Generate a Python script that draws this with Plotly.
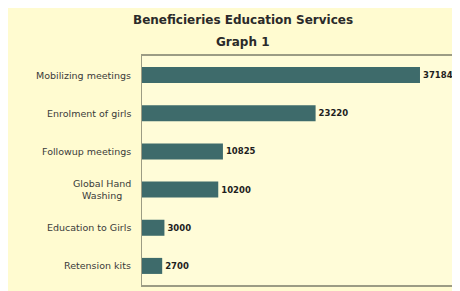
import plotly.graph_objects as go

categories = ["Mobilizing meetings", "Enrolment of girls", "Followup meetings",
              "Global Hand<br>Washing", "Education to Girls", "Retension kits"]
values = [37184, 23220, 10825, 10200, 3000, 2700]
title_line1 = "Beneficieries Education Services"
title_line2 = "Graph 1"

bar_color = "#3e6b6b"
paper_yellow = "#fffbd0"
frame = "#9c9c84"

fig = go.Figure()
fig.add_trace(go.Bar(
    y=categories, x=values, orientation="h",
    marker=dict(color=bar_color, line=dict(width=0)),
    width=0.42,
    text=[str(v) for v in values], textposition="outside",
    textfont=dict(family="DejaVu Sans", size=8.5, color="#1e1e1e", weight="bold"),
    cliponaxis=False,
))

for c in categories:
    fig.add_annotation(x=0, y=c, xref="x", yref="y", text=c, showarrow=False,
                       xanchor="right", align="center", xshift=-9,
                       font=dict(family="DejaVu Sans", size=9.5, color="#3a3a3a"))

# "Graph 1" line: figure x=235px, y=34px; plot area spans x 134..448, y 48..277
fig.add_annotation(x=(235 - 134) / 314, y=1 + (48 - 34) / 229, xref="paper", yref="paper",
                   text=title_line2, showarrow=False, xanchor="center", yanchor="middle",
                   font=dict(family="DejaVu Sans", size=12, color="#2a2a2a", weight="bold"))

fig.update_layout(
    width=452, height=283,
    margin=dict(l=134, r=4, t=48, b=6),
    paper_bgcolor=paper_yellow, plot_bgcolor="#fffcd8",
    title=dict(text=title_line1, x=0.52, xanchor="center",
               y=1 - 12 / 283, yanchor="middle",
               font=dict(family="DejaVu Sans", size=12, color="#2a2a2a", weight="bold")),
    showlegend=False,
    xaxis=dict(range=[0, 42000], showticklabels=False, showgrid=False, zeroline=False,
               showline=True, linecolor=frame, linewidth=1.5, mirror=True, ticks=""),
    yaxis=dict(autorange="reversed", showticklabels=False, showgrid=False,
               showline=True, linecolor=frame, linewidth=1, mirror=False, ticks=""),
)
fig.write_html("out.html")
